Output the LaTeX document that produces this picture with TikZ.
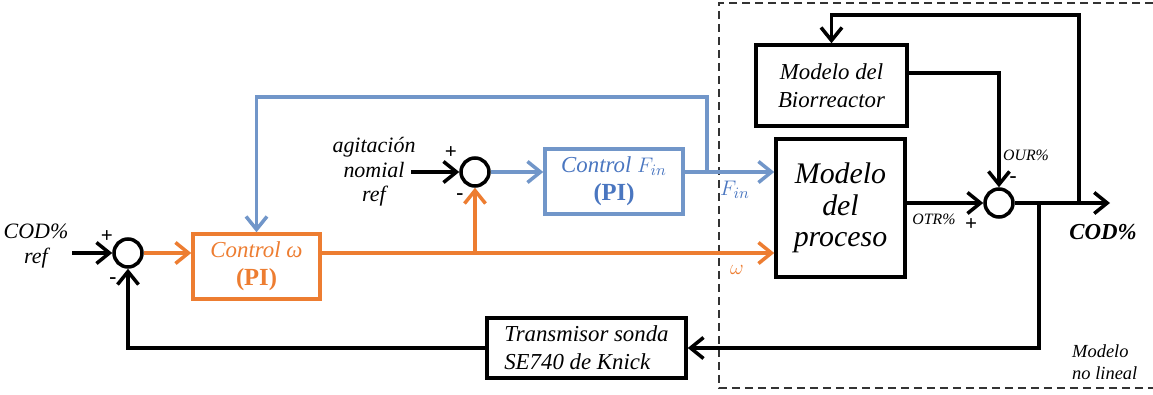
\documentclass[tikz,border=0pt]{standalone}
\usepackage{fontspec}
\setmainfont{Liberation Serif}
\usetikzlibrary{arrows.meta, positioning, calc}
\usepackage{xcolor}
\usepackage{amsmath}
\definecolor{ctlorange}{HTML}{ED7D31}
\definecolor{ctlblue}{HTML}{4A76C0}
\definecolor{ctlline}{HTML}{7196C9}
\tikzset{
    block/.style={rectangle, draw, line width=2pt, align=center, inner sep=2pt},
    sumnode/.style={circle, draw, line width=2pt, minimum size=0.56cm, inner sep=0pt},
    arrow/.style={line width=2pt, -{Straight Barb[length=2.6mm, width=4.2mm]}},
    sign/.style={font=\bfseries\fontsize{12}{14}\selectfont},
    label/.style={align=center, font=\itshape\fontsize{12.5}{14}\selectfont}
}

\begin{document}
\begin{tikzpicture}[x={(0.02cm,0)}, y={(0,-0.02cm)}]
        \useasboundingbox (0,0) rectangle (1153,395);
        \draw[line width=0.8pt, black!80, dash pattern=on 1.6mm off 1mm] (1153,3) -- (719,3) -- (719,388) -- (1153,388);
        \node[sumnode] (s1) at (128,253) {};
        \node[sumnode] (s2) at (475,172) {};
        \node[sumnode] (s3) at (999,203) {};
        \node[block, draw=ctlorange, text=ctlorange, minimum width=2.54cm, minimum height=1.3cm, font=\fontsize{13}{16}\selectfont] (ctrlw) at (256.5,266.5) {\textit{Control ω}\\\textbf{\fontsize{14}{16}\selectfont(PI)}};
        \node[block, draw=ctlline, text=ctlblue, minimum width=2.76cm, minimum height=1.3cm, font=\fontsize{13}{16}\selectfont] (ctrlf) at (614,181.5) {\textit{Control $F_{in}$}\\\textbf{\fontsize{14}{16}\selectfont(PI)}};
        \node[block, minimum width=2.58cm, minimum height=2.76cm, font=\itshape\fontsize{17}{18}\selectfont] (proc) at (840.5,208) {Modelo\\del\\proceso};
        \node[block, minimum width=3.02cm, minimum height=1.62cm, font=\itshape\fontsize{13}{16}\selectfont] (bio) at (831.5,85.5) {Modelo del\\Biorreactor};
        \node[block, minimum width=3.98cm, minimum height=1.2cm, align=left, font=\itshape\fontsize{13}{16}\selectfont] (trans) at (586.5,348) {Transmisor sonda\\SE740 de Knick};
        \node[label] (refcod) at (36,246) {COD\%\\ref};
        \node[label] (refagit) at (374,172) {agitación\\nomial\\ref};
        \coordinate (in1) at (72,253);
        \coordinate (in2) at (411,172);
        \coordinate (wsplit) at (s2 |- s1);
        \coordinate (fsplit) at (707,172);
        \coordinate (out) at (1110,203);
        \coordinate (bsplit) at (1079,203);
        \coordinate (tsplit) at (1039,203);
        \draw[arrow] (in1) -- (s1.west);
        \draw[arrow, ctlorange] (s1.east) -- (ctrlw.west |- s1);
        \draw[arrow, ctlorange] (ctrlw.east |- s1) -- (proc.west |- s1);
        \draw[arrow, ctlorange] (wsplit) -- (s2.south);
        \draw[arrow] (in2) -- (s2.west);
        \draw[arrow, ctlline] (s2.east) -- (ctrlf.west |- s2);
        \draw[arrow, ctlline] (ctrlf.east |- s2) -- (proc.west |- s2);
        \draw[arrow, ctlline] (fsplit) -- (707,97) -| (ctrlw.north);
        \draw[arrow] (proc.east |- s3) -- (s3.west);
        \draw[arrow] ([yshift=0.25cm]bio.east) -| (s3.north);
        \draw[arrow] (s3.east) -- (out);
        \draw[arrow] (bsplit) -- (1079,15) -| (bio.north);
        \draw[arrow] (tsplit) |- (trans.east);
        \draw[arrow] (trans.west) -| (s1.south);
        \node[sign] at (107,237) {+};
        \node[sign] at (113,281) {-};
        \node[sign] at (451,153) {+};
        \node[sign] at (460,197) {-};
        \node[sign] at (971,225) {+};
        \node[sign] at (1013,180) {-};
        \node[text=ctlblue, font=\fontsize{13}{15}\selectfont] (lfin) at (735,190) {$F_{in}$};
        \node[text=ctlorange, font=\fontsize{13}{15}\selectfont] (lw) at (737,270) {$\omega$};
        \node[font=\itshape\fontsize{9}{11}\selectfont] (lotr) at (934,219) {OTR\%};
        \node[font=\itshape\fontsize{9}{11}\selectfont] (lour) at (1026,155) {OUR\%};
        \node[font=\bfseries\itshape\fontsize{13}{15}\selectfont] (lcod) at (1103,232) {COD\%};
        \node[anchor=west, align=left, font=\itshape\fontsize{10.5}{12.5}\selectfont] (lmodel) at (1066,362) {Modelo\\no lineal};
\end{tikzpicture}
\end{document}
